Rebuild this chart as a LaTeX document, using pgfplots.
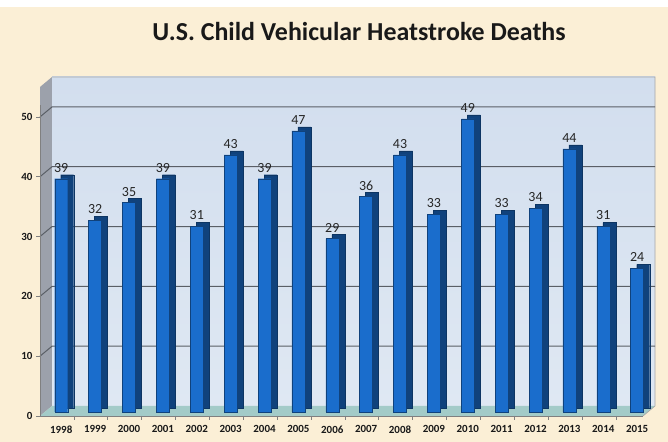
\documentclass[border=0pt]{standalone}
\usepackage{pgfplots}
\usepackage{pgfplotstable}
\pgfplotsset{compat=1.18}
\usepackage{fontspec}
\setmainfont{Carlito}
\definecolor{cream}{HTML}{FBEFD6}
\definecolor{wall}{HTML}{DFE8F3}
\definecolor{walltop}{HTML}{D2DEEE}
\definecolor{floorc}{HTML}{A3CBC8}
\definecolor{lwall}{HTML}{9CA1AB}
\definecolor{barfront}{HTML}{1A6DCC}
\definecolor{barside}{HTML}{10427C}
\definecolor{gridc}{HTML}{5A5F66}
\pgfplotstableread{
x v
0 39
1 32
2 35
3 39
4 31
5 43
6 39
7 47
8 29
9 36
10 43
11 33
12 49
13 33
14 34
15 44
16 31
17 24
}\deaths
\begin{document}
\begin{tikzpicture}[x=1bp,y=1bp]
\fill[white] (0,0) rectangle (668,442);
\fill[cream] (0,0) rectangle (668,435);
\node[font=\bfseries\fontsize{26}{30}\selectfont, text=black!90] at (359,410) {U.S. Child Vehicular Heatstroke Deaths};
\begin{axis}[
  at={(40bp,26bp)}, anchor=south west,
  scale only axis, width=603bp, height=329bp,
  xmin=-0.45, xmax=17.35, ymin=0, ymax=55,
  clip=false,
  /pgf/number format/assume math mode=true,
  axis line style={draw=none},
  tick style={draw=none},
  xtick={0,...,17},
  xticklabels={1998,1999,2000,2001,2002,2003,2004,2005,2006,2007,2008,2009,2010,2011,2012,2013,2014,2015},
  ytick={0,10,20,30,40,50},
  tick label style={font=\bfseries\fontsize{11}{13}\selectfont, text=black!90},
  xticklabel style={xshift=6bp, yshift=-2bp},
  yticklabel style={xshift=-4bp},
  ybar, bar width=13bp,
]
% left wall
\fill[lwall] (axis cs:-0.45,0) -- (axis cs:-0.45,55) -- ([shift={(12bp,10bp)}]axis cs:-0.45,55) -- ([shift={(12bp,10bp)}]axis cs:-0.45,0) -- cycle;
% back wall
\fill[top color=walltop, bottom color=wall] ([shift={(12bp,10bp)}]axis cs:-0.45,0) rectangle ([shift={(12bp,10bp)}]axis cs:17.35,55);
% floor
\fill[floorc] (axis cs:-0.45,0) -- (axis cs:17.35,0) -- ([shift={(12bp,10bp)}]axis cs:17.35,0) -- ([shift={(12bp,10bp)}]axis cs:-0.45,0) -- cycle;
\draw[gray!70, line width=0.6pt] ([shift={(12bp,10bp)}]axis cs:-0.45,55) -- ([shift={(12bp,10bp)}]axis cs:17.35,55) -- ([shift={(12bp,10bp)}]axis cs:17.35,0) -- (axis cs:17.35,0);
\pgfplotsinvokeforeach{10,20,30,40,50}{
  \draw[gridc, line width=1pt] (axis cs:-0.45,#1) -- ([shift={(12bp,10bp)}]axis cs:-0.45,#1) -- ([shift={(12bp,10bp)}]axis cs:17.35,#1);
}
\draw[gray, line width=0.6pt] (axis cs:-0.45,0) -- (axis cs:17.35,0);
\draw[gray, line width=0.6pt] (axis cs:-0.45,0) -- (axis cs:-0.45,52);
\pgfplotsinvokeforeach{0,10,20,30,40,50}{
  \draw[gray, line width=0.6pt] (axis cs:-0.45,#1) -- ([xshift=-4bp]axis cs:-0.45,#1);
}
\pgfplotsinvokeforeach{0.55,1.55,2.55,3.55,4.55,5.55,6.55,7.55,8.55,9.55,10.55,11.55,12.55,13.55,14.55,15.55,16.55}{
  \draw[gray, line width=0.6pt] (axis cs:#1,0) -- ([yshift=-4bp]axis cs:#1,0);
}
% bar sides (depth)
\addplot[fill=barside, draw=barside!80!black, line width=0.3pt, bar shift=12bp, yshift=8bp] table[x=x,y=v]{\deaths};
% bar fronts
\addplot[fill=barfront, draw=barside, line width=0.4pt, bar shift=6bp, yshift=4bp,
  nodes near coords,
  every node near coord/.append style={font=\fontsize{14}{16}\selectfont, text=black!85, yshift=3bp}]
  table[x=x,y=v]{\deaths};
\end{axis}
\end{tikzpicture}
\end{document}
